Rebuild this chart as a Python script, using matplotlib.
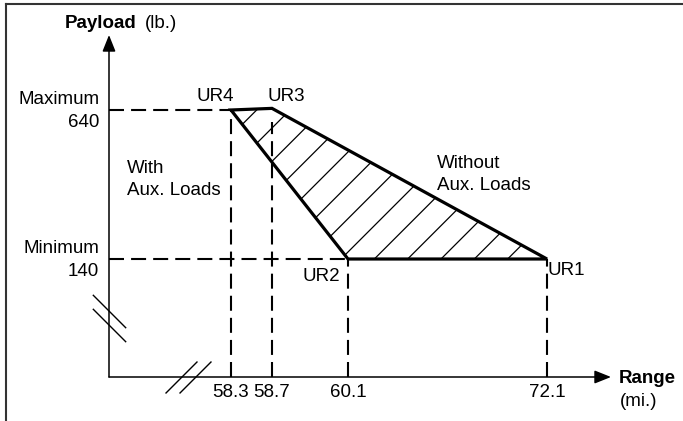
import numpy as np
import matplotlib
matplotlib.use("Agg")
import matplotlib.pyplot as plt
from matplotlib.lines import Line2D
from matplotlib.path import Path

plt.rcParams['font.family'] = ['Liberation Sans', 'DejaVu Sans']
plt.rcParams['font.size'] = 13.5
plt.rcParams['hatch.linewidth'] = 0.9

# region corners (range in mi., payload in lb.)
corner_names = ["UR1", "UR2", "UR4", "UR3"]
corner_range = [72.1, 60.1, 58.3, 58.7]
corner_payload = [140, 140, 640, 645]

range_ticks = [58.3, 58.7, 60.1, 72.1]
range_labels = ["58.3", "58.7", "60.1", "72.1"]
payload_levels = [640, 140]
payload_names = ["Maximum", "Minimum"]

# the axes are broken, so both scales are piecewise (schematic drawing)
x_knots = [0, 58.3, 58.7, 60.1, 72.1, 80]
x_pix = [109, 231, 272, 348, 547, 611]
y_knots = [0, 140, 640, 870]
y_pix = [44, 162, 311, 386]

W, H = 683, 421
fig = plt.figure(figsize=(W / 100, H / 100), dpi=100)
ax = fig.add_axes([x_pix[0] / W, y_pix[0] / H,
                   (x_pix[-1] - x_pix[0]) / W, (y_pix[-1] - y_pix[0]) / H])
ax.patch.set_alpha(0)

ax.set_xscale('function', functions=(lambda v: np.interp(v, x_knots, x_pix),
                                     lambda p: np.interp(p, x_pix, x_knots)))
ax.set_yscale('function', functions=(lambda v: np.interp(v, y_knots, y_pix),
                                     lambda p: np.interp(p, y_pix, y_knots)))
ax.set_xlim(x_knots[0], x_knots[-1])
ax.set_ylim(y_knots[0], y_knots[-1])
for s in ax.spines.values():
    s.set_visible(False)

# axes with arrow heads
arrow = dict(arrowstyle='-|>,head_length=0.5,head_width=0.2', mutation_scale=20,
             color='black', lw=1.1, shrinkA=0, shrinkB=0)
ax.annotate('', xy=(1, 0), xytext=(0, 0), xycoords='axes fraction', arrowprops=arrow)
ax.annotate('', xy=(0, 1), xytext=(0, 0), xycoords='axes fraction', arrowprops=arrow)

ax.set_xticks(range_ticks, labels=range_labels)
ax.set_yticks([])
ax.minorticks_off()
ax.tick_params(axis='x', length=0, pad=5, labelsize=13.5)

# dashed guide lines
dash = dict(color='black', lw=1.5, ls=(0, (7.2, 3.4)))
ur1, ur2, ur4, ur3 = [dict(zip(["x", "y"], p)) for p in zip(corner_range, corner_payload)]
ax.plot([0, ur4["x"]], [payload_levels[0]] * 2, **dash)
ax.plot([0, ur2["x"]], [payload_levels[1]] * 2, **dash)
ax.plot([ur4["x"]] * 2, [0, payload_levels[0]], **dash)
ax.plot([ur3["x"]] * 2, [0, 600], **dash)
ax.plot([ur2["x"]] * 2, [0, payload_levels[1]], **dash)
ax.plot([ur1["x"]] * 2, [0, payload_levels[1]], **dash)

# operating region
ax.fill(corner_range, corner_payload, facecolor='white', edgecolor='black',
        hatch='/', lw=2.3, joinstyle='miter')

# axis break marks
back = Path([(-1, 1), (1, -1)])
fwd = Path([(-1, -1), (1, 1)])
ax.plot([0, 0], [62, 78], ls='none', marker=back, ms=24, mew=1.0, mec='black',
        clip_on=False)
ax.plot([34.2, 41.3], [0, 0], ls='none', marker=fwd, ms=23, mew=1.0, mec='black',
        clip_on=False)

# level labels
for lvl, name in zip(payload_levels, payload_names):
    ax.annotate(name, xy=(0, lvl), xytext=(-7, 4), textcoords='offset points',
                ha='right', va='baseline')
    ax.annotate(str(lvl), xy=(0, lvl), xytext=(-7, -12), textcoords='offset points',
                ha='right', va='baseline')

# corner labels
offsets = {"UR1": (0.7, -11.5, 'left'), "UR2": (-5.8, -15.8, 'right'),
           "UR4": (-11.5, 6.5, 'center'), "UR3": (10, 5, 'center')}
for name, x, y in zip(corner_names, corner_range, corner_payload):
    dx, dy, ha = offsets[name]
    ax.annotate(name, xy=(x, y), xytext=(dx, dy), textcoords='offset points',
                ha=ha, va='baseline')


def ftext(x, y, s, **kw):
    fig.text(x / W, 1 - y / H, s, va='baseline', **kw)


ftext(137, 28, "Payload", ha='right', fontweight='bold')
ftext(145, 28, "(lb.)", ha='left')
ftext(619, 383, "Range", ha='left', fontweight='bold')
ftext(620, 406, "(mi.)", ha='left')
ftext(127, 173, "With", ha='left')
ftext(127, 195, "Aux. Loads", ha='left')
ftext(437, 168, "Without", ha='left')
ftext(437, 190, "Aux. Loads", ha='left')

# frame (left and top edges only)
fig.add_artist(Line2D([5.8 / W, 5.8 / W], [0, 1 - 4.3 / H], color='#333333', lw=1.5))
fig.add_artist(Line2D([5.8 / W, 1], [1 - 4.3 / H, 1 - 4.3 / H], color='#333333', lw=1.5))

fig.savefig("out.png", dpi=100)
